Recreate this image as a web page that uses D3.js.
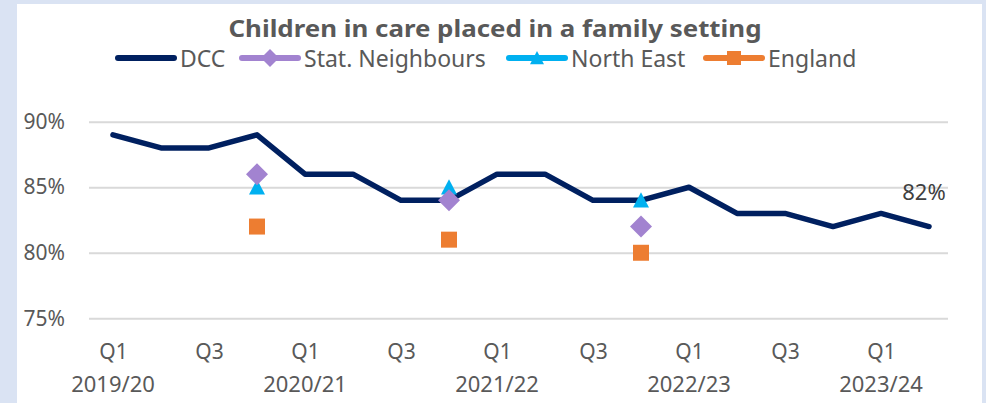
<!DOCTYPE html>
<html>
<head>
<meta charset="utf-8">
<script src="https://cdn.jsdelivr.net/npm/d3@7"></script>
<style>
  body { margin: 0; background: #dae3f3; }
  svg { display: block; }
  text { font-family: "Noto Sans", sans-serif; }
</style>
</head>
<body>
<div id="chart"></div>
<script>
// quarters shown on the x axis
var years = ["2019/20", "2020/21", "2021/22", "2022/23", "2023/24"];
var periods = ["2019/20 Q1", "2019/20 Q2", "2019/20 Q3", "2019/20 Q4",
               "2020/21 Q1", "2020/21 Q2", "2020/21 Q3", "2020/21 Q4",
               "2021/22 Q1", "2021/22 Q2", "2021/22 Q3", "2021/22 Q4",
               "2022/23 Q1", "2022/23 Q2", "2022/23 Q3", "2022/23 Q4",
               "2023/24 Q1", "2023/24 Q2"];

// DCC quarterly % in a family setting
var dcc = [89, 88, 88, 89, 86, 86, 84, 84, 86, 86, 84, 84, 85, 83, 83, 82, 83, 82];

// comparators (year end only)
var compPeriods = ["2019/20 Q4", "2020/21 Q4", "2021/22 Q4"];
var statNeighbours = [86, 84, 82];
var northEast = [85, 85, 84];
var england = [82, 81, 80];

var yTicks = [75, 80, 85, 90];

var w = 986, h = 403;

var svg = d3.select("#chart").append("svg")
    .attr("width", w)
    .attr("height", h);

// blue frame + white panel
svg.append("rect").attr("width", w).attr("height", h).attr("fill", "#dae3f3");
svg.append("rect").attr("x", 17).attr("y", 4).attr("width", 965).attr("height", h)
    .attr("fill", "#ffffff");

var x = d3.scalePoint().domain(periods).range([89, 953]).padding(0.5);
var y = d3.scaleLinear().domain([75, 90]).range([318.3, 121.7]);

// gridlines + y labels
var yAxis = d3.axisLeft(y).tickValues(yTicks).tickSize(-(948 - 89))
    .tickFormat(d => d + "%").tickPadding(24);
var gY = svg.append("g")
    .attr("transform", "translate(89,0)")
    .call(yAxis);
gY.select(".domain").remove();
gY.selectAll(".tick line").attr("stroke", "#d9d9d9").attr("stroke-width", 2);
gY.selectAll(".tick text")
    .attr("fill", "#595959")
    .attr("font-size", 21)
    .attr("font-family", "Noto Sans");

// x labels: Q1 / Q3 with year under Q1
var xTicks = periods.filter(p => /Q1|Q3/.test(p));
var xAxis = d3.axisBottom(x).tickValues(xTicks).tickSize(0).tickFormat(d => d.split(" ")[1]);
var gX = svg.append("g")
    .attr("transform", "translate(0,341)")
    .call(xAxis);
gX.select(".domain").remove();
gX.selectAll(".tick text")
    .attr("fill", "#595959")
    .attr("font-size", 21)
    .attr("font-family", "Noto Sans");

svg.selectAll(".yearLabel")
    .data(years)
    .enter()
    .append("text")
    .attr("class", "yearLabel")
    .attr("x", d => x(d + " Q1"))
    .attr("y", 392)
    .attr("text-anchor", "middle")
    .attr("fill", "#595959")
    .attr("font-size", 22)
    .text(d => d);

// DCC line
var line = d3.line()
    .x((d, i) => x(periods[i]))
    .y(d => y(d));
svg.append("path")
    .datum(dcc)
    .attr("d", line)
    .attr("fill", "none")
    .attr("stroke", "#002060")
    .attr("stroke-width", 5.5)
    .attr("stroke-linejoin", "round")
    .attr("stroke-linecap", "round");

// marker shapes
function diamond(s) { return "M0," + (-s) + "L" + s + ",0L0," + s + "L" + (-s) + ",0Z"; }
function triangle(s) { return "M0," + (-s) + "L" + s + "," + s * 0.9 + "L" + (-s) + "," + s * 0.9 + "Z"; }
function square(s) { return "M" + (-s) + "," + (-s) + "h" + 2 * s + "v" + 2 * s + "h" + (-2 * s) + "Z"; }

var series = [
    {name: "North East", values: northEast, color: "#00b0f0", shape: triangle, size: 8},
    {name: "Stat. Neighbours", values: statNeighbours, color: "#a283d0", shape: diamond, size: 11},
    {name: "England", values: england, color: "#ed7d31", shape: square, size: 8}
];

series.forEach(function(s) {
    svg.selectAll(null)
        .data(s.values)
        .enter()
        .append("path")
        .attr("d", s.shape(s.size))
        .attr("fill", s.color)
        .attr("transform", (d, i) => "translate(" + x(compPeriods[i]) + "," + y(d) + ")");
});

// last value label
var last = dcc.length - 1;
svg.append("text")
    .attr("x", x(periods[last]) - 5)
    .attr("y", y(dcc[last]) - 27)
    .attr("text-anchor", "middle")
    .attr("fill", "#404040")
    .attr("font-size", 22)
    .text(dcc[last] + "%");

// title
svg.append("text")
    .attr("x", 495)
    .attr("y", 37)
    .attr("text-anchor", "middle")
    .attr("fill", "#595959")
    .attr("font-size", 24)
    .attr("font-weight", "bold")
    .attr("textLength", 533)
    .attr("lengthAdjust", "spacingAndGlyphs")
    .text("Children in care placed in a family setting");

// legend
var legend = [
    {name: "DCC", color: "#002060", shape: null, x: 116},
    {name: "Stat. Neighbours", color: "#a283d0", shape: diamond, size: 9, x: 240},
    {name: "North East", color: "#00b0f0", shape: triangle, size: 7, x: 507},
    {name: "England", color: "#ed7d31", shape: square, size: 7, x: 704}
];
var lg = svg.selectAll(".legend")
    .data(legend)
    .enter()
    .append("g")
    .attr("class", "legend")
    .attr("transform", d => "translate(" + d.x + ",58)");
lg.append("line")
    .attr("x1", 2).attr("x2", 58)
    .attr("stroke", d => d.color)
    .attr("stroke-width", 6)
    .attr("stroke-linecap", "round");
lg.filter(d => d.shape)
    .append("path")
    .attr("d", d => d.shape(d.size))
    .attr("fill", d => d.color)
    .attr("transform", "translate(30,0)");
lg.append("text")
    .attr("x", 64)
    .attr("y", 9)
    .attr("fill", "#595959")
    .attr("font-size", 23)
    .text(d => d.name);
</script>
</body>
</html>
